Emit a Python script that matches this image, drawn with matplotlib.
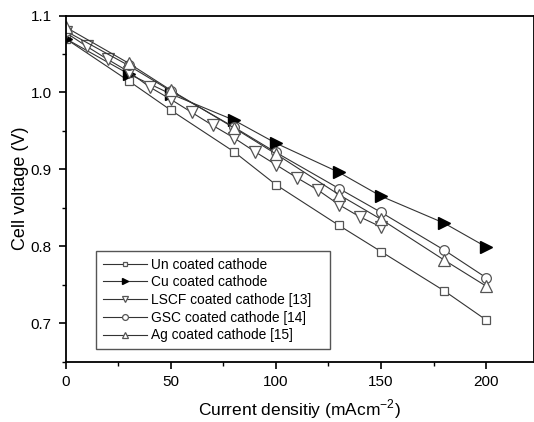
import matplotlib

matplotlib.use("Agg")
import matplotlib.pyplot as plt

# current density (mA cm^-2) and cell voltage (V)
x_main = [0, 30, 50, 80, 100, 130, 150, 180, 200]
un_coated = [1.070, 1.015, 0.977, 0.923, 0.880, 0.827, 0.793, 0.742, 0.704]
cu_coated = [1.070, 1.024, 0.998, 0.964, 0.934, 0.896, 0.865, 0.830, 0.799]
gsc_coated = [1.080, 1.035, 1.002, 0.955, 0.922, 0.875, 0.844, 0.795, 0.759]
ag_coated = [1.085, 1.038, 1.003, 0.954, 0.920, 0.867, 0.835, 0.782, 0.748]

x_lscf = [0, 10, 20, 30, 40, 50, 60, 70, 80, 90, 100, 110, 120, 130, 140, 150]
lscf_coated = [1.078, 1.060, 1.043, 1.027, 1.007, 0.991, 0.974, 0.957, 0.941,
               0.923, 0.906, 0.889, 0.873, 0.854, 0.838, 0.825]

labels = ["Un coated cathode", "Cu coated cathode", "LSCF coated cathode [13]",
          "GSC coated cathode [14]", "Ag coated cathode [15]"]

plt.rcParams["font.family"] = ["Liberation Sans", "DejaVu Sans"]
plt.rcParams["mathtext.fontset"] = "custom"
plt.rcParams["mathtext.rm"] = "Liberation Sans"

fig = plt.figure(figsize=(5.34, 4.22), dpi=100)
ax = fig.add_axes([65.5 / 534, 1 - 361.5 / 422, (533.5 - 65.5) / 534, (361.5 - 15.5) / 422])

line_kw = dict(color="#333333", linewidth=0.8, markerfacecolor="white",
               markeredgecolor="#555555", markeredgewidth=0.9)

ax.plot(x_main, un_coated, marker="s", markersize=6, label=labels[0], **line_kw)
ax.plot(x_main, cu_coated, marker=">", markersize=8, label=labels[1], color="#333333",
        linewidth=0.8, markerfacecolor="black", markeredgecolor="black")
ax.plot(x_lscf, lscf_coated, marker="v", markersize=8, label=labels[2], **line_kw)
ax.plot(x_main, gsc_coated, marker="o", markersize=7, label=labels[3], **line_kw)
ax.plot(x_main, ag_coated, marker="^", markersize=8, label=labels[4], **line_kw)

ax.set_xlim(0, 222.5)
ax.set_ylim(0.65, 1.1)
ax.set_xticks([0, 50, 100, 150, 200])
ax.set_xticks([25, 75, 125, 175], minor=True)
ax.set_yticks([0.7, 0.8, 0.9, 1.0, 1.1])
ax.set_yticks([0.65, 0.75, 0.85, 0.95, 1.05], minor=True)
ax.set_yticklabels(["0.7", "0.8", "0.9", "1.0", "1.1"])
ax.tick_params(which="major", direction="out", length=5, width=1.2, labelsize=11, pad=5)
ax.tick_params(which="minor", direction="out", length=3, width=1.0)
for side in ["left", "bottom", "top", "right"]:
    ax.spines[side].set_linewidth(1.3)

ax.set_xlabel("Current densitiy (mAcm$^{\\mathregular{-2}}$)", fontsize=12.5, labelpad=6)
ax.set_ylabel("Cell voltage (V)", fontsize=13, labelpad=1)

# legend box spans the same pixels as the reference (96..330, 251..346)
leg = ax.legend(loc="upper left",
                bbox_to_anchor=(95.7 / 534, 1 - 345.7 / 422, (330 - 95.7) / 534, (345.7 - 250.7) / 422),
                bbox_transform=fig.transFigure, mode="expand", borderaxespad=0, fontsize=9.9,
                numpoints=1, handlelength=3.2, markerscale=0.6, labelspacing=0.27,
                handletextpad=0.35, borderpad=0.5, fancybox=False, framealpha=1)
leg.get_frame().set_edgecolor("#555555")
leg.get_frame().set_linewidth(1.0)

fig.savefig("out.png", dpi=100)
